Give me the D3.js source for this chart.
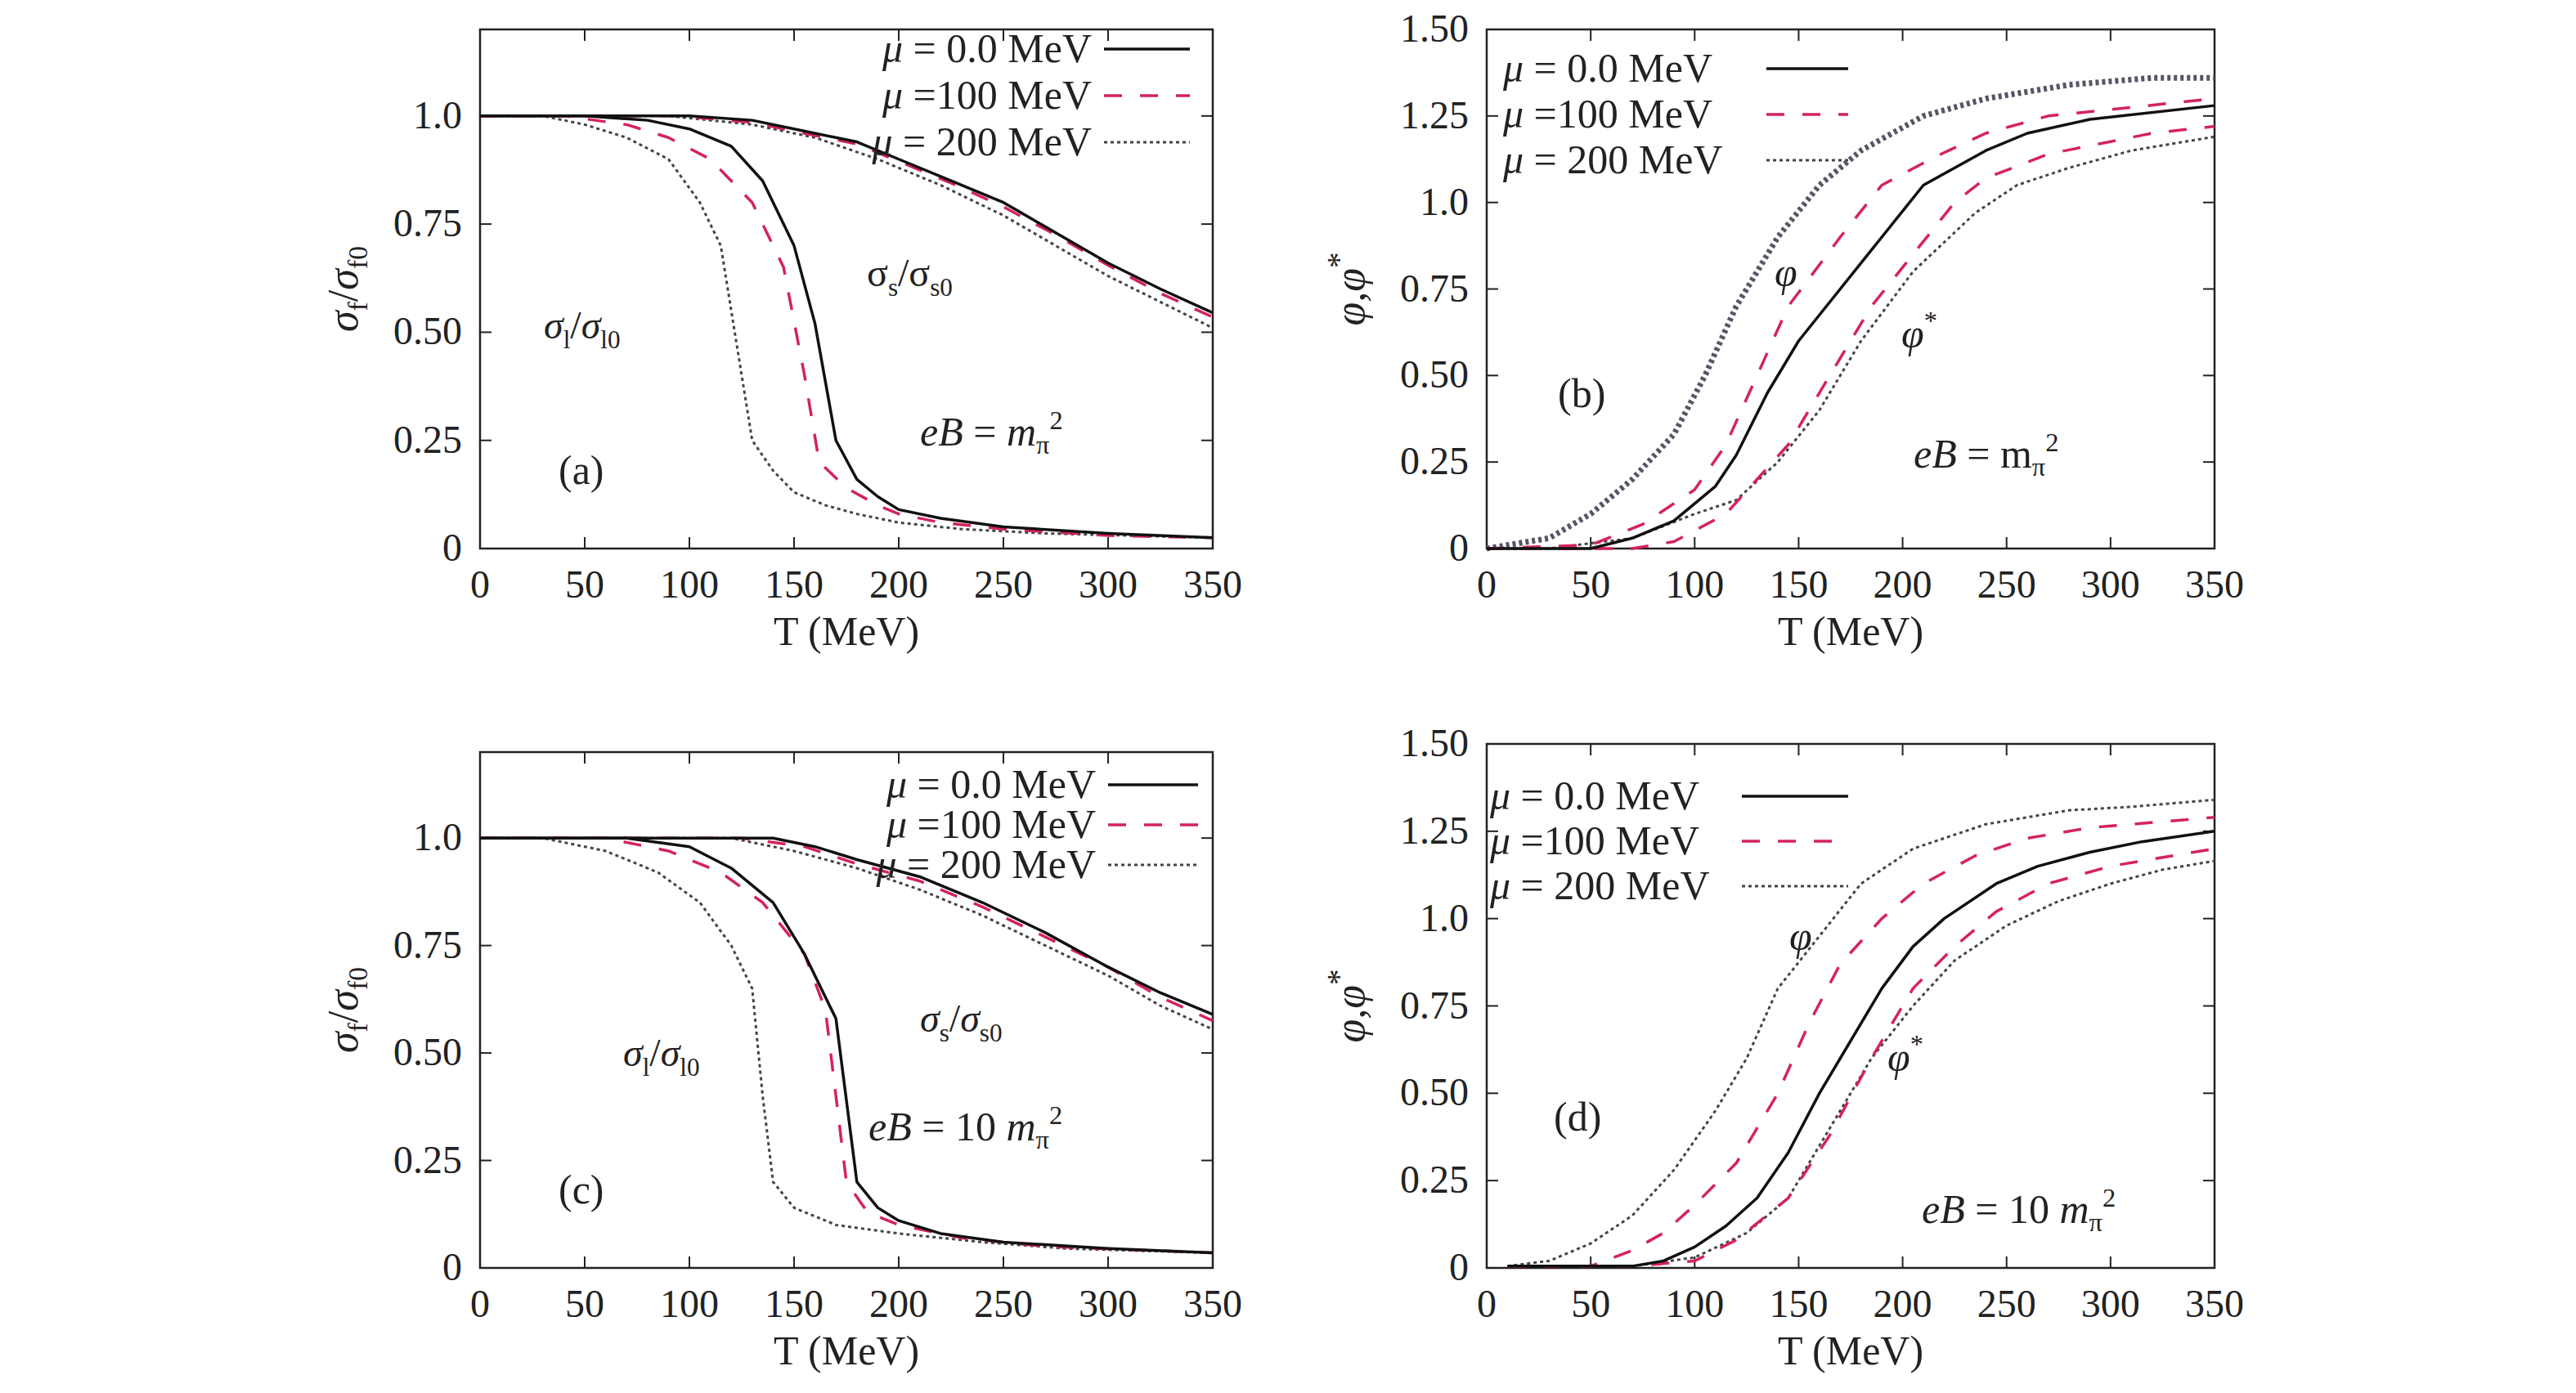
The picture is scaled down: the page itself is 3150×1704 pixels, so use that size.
<!DOCTYPE html>
<html><head><meta charset="utf-8">
<script src="https://cdn.jsdelivr.net/npm/d3@7"></script>
<style>body{margin:0;background:#fff}text{font-family:"Liberation Serif","DejaVu Serif",serif;fill:#222}</style>
</head><body>
<svg id="c" width="3150" height="1704"></svg>
<script>
// panel (a): eB = m_pi^2, sigma ratios
var aL0 = [[0,1],[50,1],[80,0.99],[100,0.97],[120,0.93],[135,0.85],[150,0.7],[160,0.52],[170,0.25],[180,0.16],[190,0.12],[200,0.09],[220,0.07],[250,0.05],[300,0.035],[350,0.025]];
var aL1 = [[0,1],[40,1],[70,0.98],[90,0.95],[110,0.9],[130,0.8],[145,0.65],[155,0.4],[162,0.2],[175,0.14],[190,0.1],[200,0.08],[220,0.06],[250,0.045],[300,0.03],[350,0.025]];
var aL2 = [[0,1],[30,1],[50,0.98],[70,0.95],[90,0.9],[105,0.8],[115,0.7],[120,0.55],[125,0.4],[130,0.25],[140,0.18],[150,0.13],[165,0.1],[180,0.08],[200,0.06],[230,0.045],[270,0.035],[350,0.025]];
var aS0 = [[0,1],[100,1],[130,0.99],[150,0.97],[180,0.94],[200,0.9],[225,0.85],[250,0.8],[275,0.73],[300,0.66],[325,0.6],[350,0.545]];
var aS1 = [[0,1],[95,1],[130,0.985],[150,0.965],[180,0.935],[200,0.895],[225,0.845],[250,0.79],[275,0.725],[300,0.655],[325,0.59],[350,0.535]];
var aS2 = [[0,1],[90,1],[130,0.98],[160,0.95],[190,0.9],[220,0.84],[250,0.77],[275,0.7],[300,0.63],[325,0.57],[350,0.51]];
// panel (b): eB = m_pi^2, phi and phi*
var b0 = [[0,0],[50,0],[70,0.03],[90,0.08],[110,0.18],[120,0.27],[135,0.45],[150,0.6],[170,0.75],[190,0.9],[210,1.05],[240,1.15],[260,1.2],[290,1.24],[350,1.28]];
var b1p = [[0,0],[50,0.01],[75,0.07],[100,0.17],[115,0.3],[130,0.5],[145,0.7],[170,0.9],[190,1.05],[215,1.13],[240,1.2],[270,1.25],[350,1.3]];
var b1s = [[0,0],[70,0],[90,0.02],[115,0.1],[145,0.3],[165,0.5],[185,0.7],[205,0.85],[225,1.0],[240,1.07],[270,1.14],[320,1.2],[350,1.22]];
var b2p = [[0,0],[10,0.01],[30,0.03],[50,0.1],[70,0.2],[90,0.33],[105,0.5],[120,0.7],[140,0.9],[160,1.05],[180,1.15],[210,1.25],[240,1.3],[280,1.34],[320,1.36],[350,1.36]];
var b2s = [[0,0],[30,0],[70,0.03],[100,0.1],[120,0.14],[140,0.25],[160,0.4],[180,0.6],[205,0.8],[235,0.97],[255,1.05],[280,1.1],[310,1.15],[350,1.19]];
// panel (c): eB = 10 m_pi^2, sigma ratios
var cL0 = [[0,1],[70,1],[100,0.98],[120,0.93],[140,0.85],[155,0.73],[170,0.58],[180,0.2],[190,0.14],[200,0.11],[220,0.08],[250,0.06],[300,0.045],[350,0.035]];
var cL1 = [[0,1],[60,1],[90,0.97],[115,0.92],[135,0.85],[155,0.73],[165,0.6],[170,0.4],[175,0.2],[185,0.13],[200,0.1],[230,0.07],[270,0.05],[350,0.035]];
var cL2 = [[0,1],[30,1],[60,0.97],[85,0.92],[105,0.85],[120,0.75],[130,0.65],[135,0.4],[140,0.2],[150,0.14],[170,0.1],[200,0.08],[240,0.06],[280,0.045],[350,0.035]];
var cS0 = [[0,1],[140,1],[160,0.98],[180,0.95],[210,0.91],[240,0.85],[270,0.78],[300,0.7],[325,0.64],[350,0.59]];
var cS1 = [[0,1],[125,1],[155,0.98],[180,0.94],[210,0.9],[240,0.84],[270,0.77],[300,0.7],[325,0.63],[350,0.575]];
var cS2 = [[0,1],[120,1],[150,0.97],[180,0.93],[210,0.88],[240,0.82],[270,0.75],[300,0.68],[325,0.61],[350,0.555]];
// panel (d): eB = 10 m_pi^2, phi and phi*
var d0 = [[10,0.005],[70,0.005],[85,0.02],[100,0.06],[115,0.12],[130,0.2],[145,0.33],[160,0.5],[175,0.65],[190,0.8],[205,0.92],[220,1.0],[245,1.1],[265,1.15],[290,1.19],[315,1.22],[350,1.25]];
var d1p = [[10,0.005],[50,0.005],[70,0.05],[85,0.1],[100,0.18],[120,0.3],[140,0.5],[155,0.7],[170,0.87],[190,1.0],[210,1.1],[235,1.18],[260,1.23],[290,1.26],[350,1.29]];
var d1s = [[10,0.005],[70,0.005],[100,0.02],[120,0.08],[145,0.2],[165,0.38],[185,0.6],[205,0.8],[225,0.92],[245,1.02],[270,1.1],[300,1.15],[350,1.2]];
var d2p = [[10,0.005],[30,0.02],[50,0.07],[70,0.15],[90,0.28],[110,0.45],[125,0.6],[140,0.8],[160,0.95],[180,1.1],[205,1.2],[240,1.27],[280,1.31],[310,1.32],[350,1.34]];
var d2s = [[10,0.005],[70,0.005],[100,0.03],[125,0.1],[145,0.2],[165,0.4],[185,0.6],[205,0.75],[225,0.88],[250,0.98],[275,1.05],[300,1.1],[325,1.14],[350,1.165]];

var legendLabels = ["\u03bc = 0.0 MeV", "\u03bc =100 MeV", "\u03bc = 200 MeV"];
var xTicks = [0,50,100,150,200,250,300,350];
var yTicksSig = [0,0.25,0.5,0.75,1.0];
var yTicksPhi = [0,0.25,0.5,0.75,1.0,1.25,1.5];

var styles = [
  {stroke:"#111", dash:null, w:3.5},
  {stroke:"#d4245a", dash:"22,22", w:3.5},
  {stroke:"#444", dash:"4,4", w:3}
];

var svg = d3.select("#c");

function fmt(v){ return v===0 ? "0" : v===1 ? "1.0" : d3.format(".2f")(v); }

function panel(o){
  var x = d3.scaleLinear().domain([0,350]).range([o.x0,o.x1]);
  var y = d3.scaleLinear().domain([0,o.ymax]).range([o.y1,o.y0]);
  var g = svg.append("g");
  g.append("rect").attr("x",o.x0).attr("y",o.y0).attr("width",o.x1-o.x0).attr("height",o.y1-o.y0)
    .attr("fill","none").attr("stroke","#222").attr("stroke-width",2.5);
  xTicks.forEach(function(t){
    g.append("line").attr("x1",x(t)).attr("x2",x(t)).attr("y1",o.y1).attr("y2",o.y1-14).attr("stroke","#222").attr("stroke-width",2);
    g.append("line").attr("x1",x(t)).attr("x2",x(t)).attr("y1",o.y0).attr("y2",o.y0+14).attr("stroke","#222").attr("stroke-width",2);
    g.append("text").attr("x",x(t)).attr("y",o.y1+60).attr("text-anchor","middle").attr("font-size",48).text(t);
  });
  o.yticks.forEach(function(t){
    g.append("line").attr("x1",o.x0).attr("x2",o.x0+14).attr("y1",y(t)).attr("y2",y(t)).attr("stroke","#222").attr("stroke-width",2);
    g.append("line").attr("x1",o.x1).attr("x2",o.x1-14).attr("y1",y(t)).attr("y2",y(t)).attr("stroke","#222").attr("stroke-width",2);
    g.append("text").attr("x",o.x0-22).attr("y",y(t)+15).attr("text-anchor","end").attr("font-size",48).text(fmt(t));
  });
  g.append("text").attr("x",(o.x0+o.x1)/2).attr("y",o.y1+118).attr("text-anchor","middle").attr("font-size",50).text("T (MeV)");
  var yl = g.append("text").attr("transform","translate("+(o.x0-150)+","+((o.y0+o.y1)/2)+") rotate(-90)")
    .attr("text-anchor","middle").attr("font-size",52);
  o.ylab(yl);

  var line = d3.line().x(function(d){return x(d[0]);}).y(function(d){return y(d[1]);}).curve(d3.curveLinear);
  o.series.forEach(function(s){
    var st = styles[s.k];
    g.append("path").attr("d",line(s.d)).attr("fill","none").attr("stroke",s.color||st.stroke)
      .attr("stroke-width",s.w||st.w).attr("stroke-dasharray",st.dash).attr("stroke-linejoin","round");
  });
  // legend
  legendLabels.forEach(function(lab,i){
    var ly = o.leg.y + i*o.leg.dy;
    var t = g.append("text").attr("x",o.leg.tx).attr("y",ly+16).attr("font-size",50).attr("text-anchor",o.leg.anchor);
    t.append("tspan").attr("font-style","italic").text(lab.slice(0,1));
    t.append("tspan").text(lab.slice(1));
    var st = styles[i];
    g.append("line").attr("x1",o.leg.l0).attr("x2",o.leg.l1).attr("y1",ly).attr("y2",ly)
      .attr("stroke",st.stroke).attr("stroke-width",st.w).attr("stroke-dasharray",st.dash);
  });
  o.notes(g);
}

function sigLab(t, sub){
  t.append("tspan").attr("font-style","italic").text("\u03c3");
  t.append("tspan").attr("font-size","65%").attr("dy",12).text(sub);
  t.append("tspan").attr("dy",-12).text("/");
  t.append("tspan").attr("font-style","italic").text("\u03c3");
  t.append("tspan").attr("font-size","65%").attr("dy",12).text(sub+"0");
}
function sigLabU(t, sub){
  t.append("tspan").text("\u03c3");
  t.append("tspan").attr("font-size","65%").attr("dy",12).text(sub);
  t.append("tspan").attr("dy",-12).text("/\u03c3");
  t.append("tspan").attr("font-size","65%").attr("dy",12).text(sub+"0");
}
function phiLab(t){
  t.append("tspan").attr("font-style","italic").text("\u03c6,\u03c6");
  t.append("tspan").attr("font-size","75%").attr("dy",-18).text("*");
}
function eB(g, x, yy, pre, italicM){
  var t = g.append("text").attr("x",x).attr("y",yy).attr("font-size",50);
  t.append("tspan").attr("font-style","italic").text("eB");
  t.append("tspan").text(" = "+pre);
  t.append("tspan").attr("font-style",italicM?"italic":"normal").text("m");
  t.append("tspan").attr("font-size","65%").attr("dy",10).text("\u03c0");
  t.append("tspan").attr("font-size","65%").attr("dy",-30).text("2");
}
function txt(g,x,yy,s){ g.append("text").attr("x",x).attr("y",yy).attr("font-size",50).text(s); }
function phiNote(g,x,yy,star){
  var t = g.append("text").attr("x",x).attr("y",yy).attr("font-size",50);
  t.append("tspan").attr("font-style","italic").text("\u03c6");
  if(star) t.append("tspan").attr("font-size","65%").attr("dy",-22).text("*");
}

panel({x0:587,x1:1483,y0:36,y1:671,ymax:1.2,yticks:yTicksSig,
  ylab:function(t){ sigLab(t,"f"); },
  series:[{k:2,d:aS2},{k:1,d:aS1},{k:0,d:aS0},{k:2,d:aL2},{k:1,d:aL1},{k:0,d:aL0}],
  leg:{tx:1335,anchor:"end",l0:1350,l1:1455,y:60,dy:57},
  notes:function(g){
    var t=g.append("text").attr("x",1060).attr("y",350).attr("font-size",48); sigLabU(t,"s");
    var u=g.append("text").attr("x",665).attr("y",414).attr("font-size",48); sigLab(u,"l");
    eB(g,1125,545,"",true); txt(g,683,592,"(a)");
  }});

panel({x0:1818,x1:2708,y0:36,y1:671,ymax:1.5,yticks:yTicksPhi,
  ylab:phiLab,
  series:[{k:2,d:b2p,w:7,color:"#556"},{k:2,d:b2s},{k:1,d:b1p},{k:1,d:b1s},{k:0,d:b0}],
  leg:{tx:1838,anchor:"start",l0:2160,l1:2260,y:84,dy:56},
  notes:function(g){
    phiNote(g,2170,350,false); phiNote(g,2325,425,true);
    txt(g,1905,498,"(b)"); eB(g,2340,572,"",false);
  }});

panel({x0:587,x1:1483,y0:920,y1:1551,ymax:1.2,yticks:yTicksSig,
  ylab:function(t){ sigLab(t,"f"); },
  series:[{k:2,d:cS2},{k:1,d:cS1},{k:0,d:cS0},{k:2,d:cL2},{k:1,d:cL1},{k:0,d:cL0}],
  leg:{tx:1340,anchor:"end",l0:1355,l1:1465,y:960,dy:49},
  notes:function(g){
    var t=g.append("text").attr("x",1125).attr("y",1262).attr("font-size",48); sigLab(t,"s");
    var u=g.append("text").attr("x",762).attr("y",1304).attr("font-size",48); sigLab(u,"l");
    eB(g,1062,1395,"10 ",true); txt(g,683,1472,"(c)");
  }});

panel({x0:1818,x1:2708,y0:910,y1:1551,ymax:1.5,yticks:yTicksPhi,
  ylab:phiLab,
  series:[{k:2,d:d2p},{k:2,d:d2s},{k:1,d:d1p},{k:1,d:d1s},{k:0,d:d0}],
  leg:{tx:1822,anchor:"start",l0:2130,l1:2260,y:974,dy:55},
  notes:function(g){
    phiNote(g,2188,1162,false); phiNote(g,2308,1310,true);
    txt(g,1900,1383,"(d)"); eB(g,2350,1496,"10 ",true);
  }});
</script>
</body></html>
